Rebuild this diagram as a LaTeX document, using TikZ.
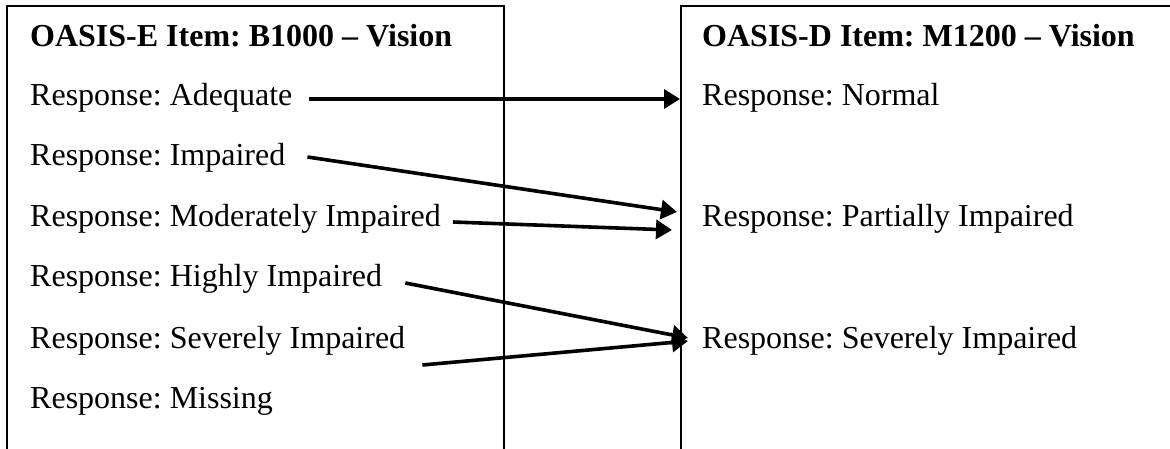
\documentclass[tikz,border=0pt]{standalone}
\usepackage{fontspec}
\setmainfont{Liberation Serif}
\usetikzlibrary{arrows.meta}
\frenchspacing
\tikzset{
  lbl/.style={anchor=base west, inner sep=0pt, font=\fontsize{32}{38}\selectfont},
  ttl/.style={lbl, font=\fontsize{32}{38}\selectfont\bfseries},
  frame/.style={line width=1.6pt, line join=miter},
  conn/.style={line width=3.6pt, -{Triangle[length=16pt,width=19pt]}}
}
\begin{document}
\begin{tikzpicture}[x=1pt,y=-1pt]
\useasboundingbox (0,0) rectangle (1170,449);
% frames
\draw[frame] (7,449) -- (7,6) -- (504,6) -- (504,449);
\draw[frame] (681,449) -- (681,6) -- (1172,6);
% left column
\node[ttl] (lt) at (30,47) {OASIS-E Item: B1000 – Vision};
\node[lbl] (a1) at (30,106) {Response: Adequate};
\node[lbl] (a2) at (30,166) {Response: Impaired};
\node[lbl] (a3) at (30,227) {Response: Moderately Impaired};
\node[lbl] (a4) at (30,287) {Response: Highly Impaired};
\node[lbl] (a5) at (30,348) {Response: Severely Impaired};
\node[lbl] (a6) at (30,408) {Response: Missing};
% right column
\node[ttl] (rt) at (702,47) {OASIS-D Item: M1200 – Vision};
\node[lbl] (b1) at (702,106) {Response: Normal};
\node[lbl] (b2) at (702,227) {Response: Partially Impaired};
\node[lbl] (b3) at (702,348) {Response: Severely Impaired};
% connectors
\draw[conn] ([shift={(16,-7)}]a1.base east) -- ([shift={(-22,-7)}]b1.base west);
\draw[conn] ([shift={(22,-9)}]a2.base east) -- ([shift={(-25,-15)}]b2.base west);
\draw[conn] ([shift={(12,-5)}]a3.base east) -- ([shift={(-30,3)}]b2.base west);
\draw[conn] ([shift={(23,-4)}]a4.base east) -- ([shift={(-14,-10)}]b3.base west);
\draw[conn] ([shift={(17,17)}]a5.base east) -- ([shift={(-14,-7)}]b3.base west);
\end{tikzpicture}
\end{document}
